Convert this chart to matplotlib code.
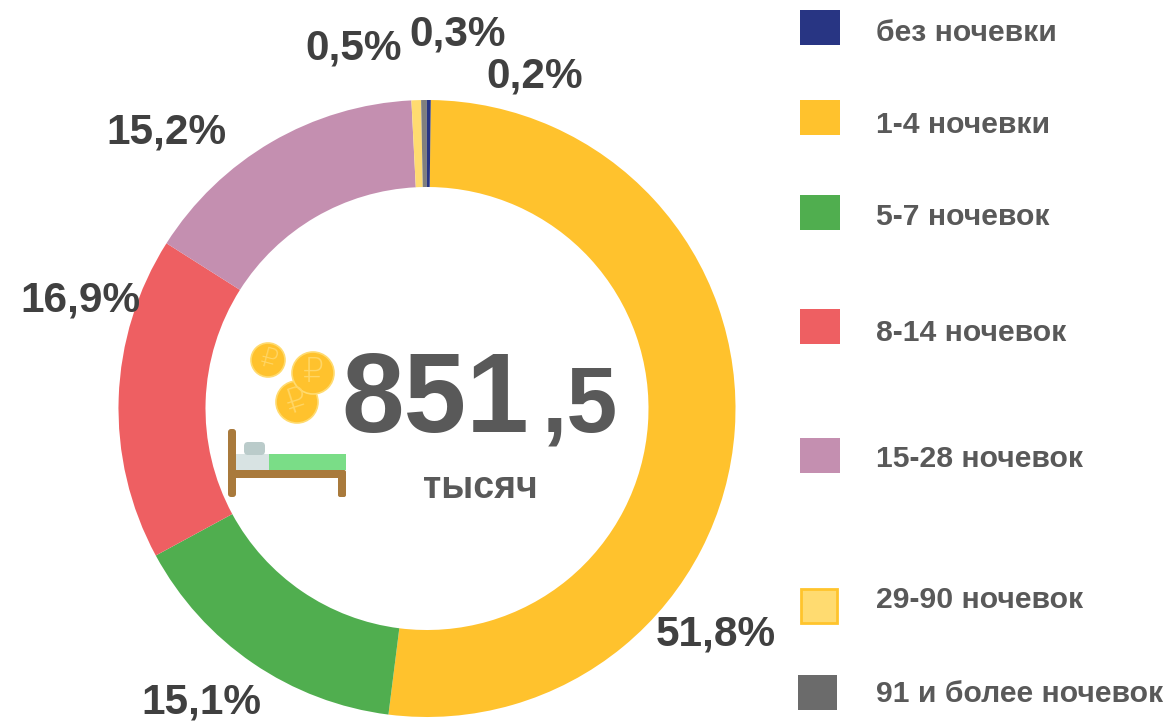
import matplotlib
matplotlib.use("Agg")
import matplotlib.pyplot as plt
from matplotlib.patches import Circle, FancyBboxPatch, Rectangle

plt.rcParams["font.family"] = ["Liberation Sans", "DejaVu Sans"]

# Data
categories = ["1-4 ночевки", "5-7 ночевок", "8-14 ночевок", "15-28 ночевок",
              "29-90 ночевок", "91 и более ночевок", "без ночевки"]
values = [51.8, 15.1, 16.9, 15.2, 0.5, 0.3, 0.2]
value_labels = ["51,8%", "15,1%", "16,9%", "15,2%", "0,5%", "0,3%", "0,2%"]
colors = ["#FFC22D", "#50AE4F", "#EE5F62", "#C48FB0", "#FFDB70", "#7F7F7F", "#283583"]

# Legend order differs from the slice order
legend_names = ["без ночевки", "1-4 ночевки", "5-7 ночевок", "8-14 ночевок",
                "15-28 ночевок", "29-90 ночевок", "91 и более ночевок"]
legend_colors = ["#283583", "#FFC22D", "#50AE4F", "#EE5F62", "#C48FB0", "#FFDB70", "#6B6B6B"]

W, H = 1166, 721
fig = plt.figure(figsize=(W / 100, H / 100), dpi=100)
ax = fig.add_axes([0, 0, 1, 1])


def py(y):
    # picture y (from top) to axes y
    return H - y


def label(x, y, s, size, color="#404040", **kw):
    ax.text(x, py(y), s, fontsize=size, color=color, fontweight="bold",
            ha=kw.pop("ha", "center"), va="center", **kw)


# Donut
ax.pie(values, colors=colors, startangle=89.3, counterclock=False,
       center=(427, py(408.5)), radius=308.5,
       wedgeprops={"width": 87, "linewidth": 0}, frame=True)

# Slice labels
label_xy = [(716, 634), (201, 702), (80, 301), (166, 132), (354, 48), (458, 35), (535, 76)]
for (x, y), s in zip(label_xy, value_labels):
    label(x, y, s, 30.5)

# Centre text
label(435, 403, "851", 81, color="#595959")
label(580, 408, ",5", 66, color="#595959")
label(480, 488, "тысяч", 27, color="#595959")

# Legend
legend_box = [(800, 10, 40, 35), (800, 100, 40, 35), (800, 195, 40, 35), (800, 309, 40, 35),
              (800, 438, 40, 35), (801, 589, 36, 34), (798, 675, 39, 35)]
legend_y = [33, 125, 217, 333, 459, 600, 694]
for i, name in enumerate(legend_names):
    x, y, w, h = legend_box[i]
    edge = "#FFC42C" if name.startswith("29") else "none"
    ax.add_patch(Rectangle((x, py(y + h)), w, h, facecolor=legend_colors[i],
                           edgecolor=edge, linewidth=2))
    label(876, legend_y[i], name, 21.7, color="#595959", ha="left")

# Coins
for cx, cy, r, rot, size in [(268, 360, 17, -15, 19), (297, 402, 21, 18, 24), (313, 373, 21, 0, 24)]:
    ax.add_patch(Circle((cx, py(cy)), r, facecolor="#FFC22D", edgecolor="#FFDB70", linewidth=1.2))
    ax.text(cx, py(cy), "₽", fontsize=size, color="#FFD666", ha="center", va="center",
            rotation=rot, family="DejaVu Sans", fontweight="light")

# Bed
brown = "#A97A3C"
ax.add_patch(Rectangle((236, py(470)), 33, 16, facecolor="#D8E3E3", linewidth=0))
ax.add_patch(Rectangle((269, py(470)), 77, 16, facecolor="#7ADD87", linewidth=0))
ax.add_patch(FancyBboxPatch((247, py(452)), 15, 7, boxstyle="round,pad=3,rounding_size=4",
                            facecolor="#BACBCA", linewidth=0))
ax.add_patch(Rectangle((232, py(478)), 110, 8, facecolor=brown, linewidth=0))
ax.add_patch(FancyBboxPatch((230, py(495)), 4, 64, boxstyle="round,pad=2,rounding_size=3",
                            facecolor=brown, linewidth=0))
ax.add_patch(FancyBboxPatch((340, py(495)), 4, 23, boxstyle="round,pad=2,rounding_size=2",
                            facecolor=brown, linewidth=0))

ax.set_xlim(0, W)
ax.set_ylim(0, H)
ax.set_aspect("auto")
ax.axis("off")

fig.savefig("out.png", dpi=100, facecolor="white")
